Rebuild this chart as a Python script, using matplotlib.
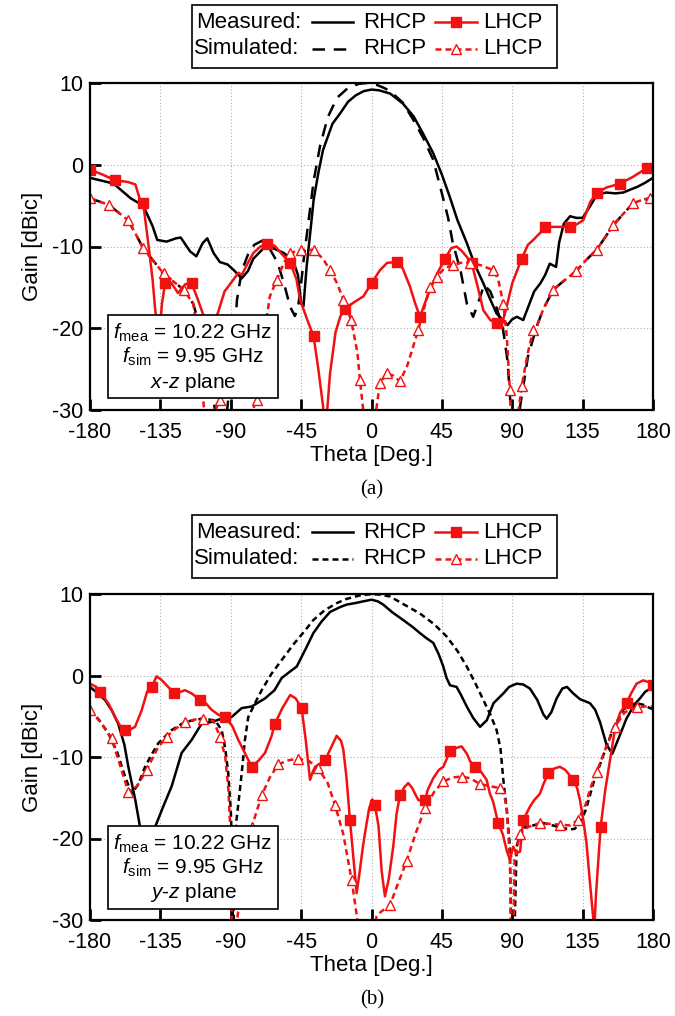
import matplotlib
matplotlib.use('Agg')
import matplotlib.pyplot as plt
from matplotlib.lines import Line2D
from matplotlib.patches import Rectangle

plt.rcParams['font.family'] = ['Liberation Sans', 'DejaVu Sans']
plt.rcParams['mathtext.fontset'] = 'custom'
plt.rcParams['mathtext.rm'] = 'Liberation Sans'
plt.rcParams['mathtext.it'] = 'Liberation Sans:italic'
plt.rcParams['axes.unicode_minus'] = False

# ---------------- (a) x-z plane ----------------
a_meas_r_th = [-180, -165, -154, -146, -140, -137, -131, -125, -122, -116, -112, -108, -105, -101, -97, -92,
               -88, -83, -79, -75.6, -69, -63, -56, -50, -47, -45, -43.5, -41.5, -39, -37, -34, -31, -25, -20,
               -15, -10, -5, 0, 5, 12, 20, 27, 33, 39.5, 45, 50, 55, 61, 66, 71.5, 76, 80, 84, 87, 90, 93, 97,
               101, 104, 108, 111, 114, 118, 120, 123, 127, 131, 135, 140, 144, 150, 156, 161, 166, 170, 175, 180]
a_meas_r_g = [-1.6, -2.3, -4.1, -5.0, -7.5, -9.2, -9.4, -9.0, -8.9, -10.6, -11.2, -9.6, -9.0, -10.8, -11.9, -12.2,
              -12.9, -13.9, -13.0, -11.5, -10.2, -10.2, -10.8, -11.8, -13.5, -17.0, -17.3, -12.5, -8.0, -4.3, -1.0,
              1.8, 5.0, 6.3, 7.7, 8.5, 9.0, 9.2, 9.1, 8.7, 7.5, 5.9, 3.8, 1.4, -1.2, -3.9, -6.8, -9.6, -12.2, -14.5,
              -16.5, -18.2, -19.0, -19.6, -18.9, -18.6, -19.0, -17.0, -15.5, -14.5, -13.5, -12.1, -12.5, -9.5, -7.2,
              -6.3, -6.5, -6.5, -5.0, -3.7, -3.4, -3.5, -3.4, -3.0, -2.7, -2.2, -1.6]

a_sim_r_th = [-180, -168, -155.5, -146, -133, -120, -114, -108, -103, -95, -88, -86, -83, -79, -75, -70, -65, -60,
              -56, -52, -49, -47, -45, -43, -40, -37, -33, -28, -22, -15, -8, -3, 3, 8, 12, 20, 26.7, 33, 39.5, 45,
              49, 52, 57, 61, 65, 68, 72, 76, 80, 84, 87, 89, 90, 92, 95, 100, 105.6, 110, 116.2, 123, 131, 137,
              144, 150, 154.6, 161, 167.4, 173, 178, 180]
a_sim_r_g = [-4.1, -4.9, -6.8, -10.2, -13.3, -15.3, -17.0, -21.0, -27.0, -35.0, -22.0, -16.5, -13.0, -11.0, -9.8,
             -9.3, -10.3, -12.0, -14.5, -17.4, -18.5, -17.5, -14.5, -11.0, -6.5, -2.0, 2.2, 5.8, 8.2, 9.4, 9.9, 10.0,
             9.8, 9.4, 9.0, 7.6, 5.5, 3.3, 0.6, -3.5, -6.5, -9.6, -13.0, -17.0, -18.6, -17.0, -14.7, -15.5, -17.5,
             -20.0, -24.0, -29.6, -35.0, -35.0, -29.6, -23.5, -19.8, -17.6, -15.3, -14.2, -13.0, -11.7, -10.4, -8.7,
             -7.4, -6.0, -4.7, -4.3, -4.1, -4.1]

a_sim_l_th = [-180, -168, -155.5, -146, -133, -120, -114, -110, -106, -101, -97, -93, -85, -78, -73.5, -68, -65,
              -60.6, -56, -52, -45, -37, -31, -26.5, -22, -18, -13, -9, -7.4, -5, -2, 3, 5.4, 9.6, 14, 18.2, 23,
              29.9, 37.4, 41.6, 47, 52.3, 57, 63, 70, 77.9, 81, 84.3, 86.5, 88.5, 90, 92, 96, 100, 103.4, 105.6,
              110, 116.2, 123, 131, 137, 144, 150, 154.6, 161, 167.4, 173, 178, 180]
a_sim_l_g = [-4.1, -4.9, -6.8, -10.2, -13.3, -15.3, -17.0, -22.0, -33.0, -30.5, -28.8, -30.5, -35.0, -31.0, -28.8,
             -20.0, -16.1, -14.1, -12.0, -10.8, -10.4, -10.4, -11.5, -12.9, -14.5, -16.5, -19.0, -23.0, -26.3, -30.5,
             -35.0, -30.0, -26.7, -25.5, -25.8, -26.5, -24.5, -20.2, -14.9, -13.7, -12.6, -12.3, -12.0, -12.0, -12.3,
             -12.9, -14.0, -17.0, -21.0, -27.6, -35.0, -33.0, -27.1, -23.0, -20.2, -19.8, -17.6, -15.3, -14.2, -13.0,
             -11.7, -10.4, -8.7, -7.4, -6.0, -4.7, -4.3, -4.1, -4.1]
a_sim_l_mk = [-180, -168, -155.5, -146, -133, -120, -97, -73.5, -60.6, -52, -45, -37, -26.5, -18, -13, -7.4, 5.4,
              9.6, 18.2, 29.9, 37.4, 41.6, 52.3, 63, 77.9, 84.3, 88.5, 96, 103.4, 116.2, 131, 144, 154.6, 167.4, 178]

a_meas_l_th = [-180, -172, -164, -156, -151, -148, -146, -143, -140, -138.4, -136, -134, -132, -127.8, -123.7, -119,
               -115, -111, -107.7, -104, -100, -98, -94, -91.6, -85, -83, -79, -75.6, -71, -67, -62, -57, -52, -48,
               -45.7, -41, -37, -34, -31, -29.5, -27.5, -26.5, -23, -20, -17, -11, -5.2, 0, 5.4, 10, 16, 20, 24.6,
               28, 31, 34, 37.4, 42, 47, 51, 54.4, 58, 64, 68, 71.5, 76, 80, 83, 86.4, 90, 96, 100, 103.4, 108, 111,
               118, 127, 131, 135.4, 140, 144, 150, 159, 167, 176, 180]
a_meas_l_g = [-0.6, -1.2, -1.9, -2.1, -2.4, -4.3, -4.7, -9.2, -14.0, -17.5, -22.0, -17.0, -14.5, -14.5, -15.7, -14.6,
              -14.5, -16.5, -18.3, -22.0, -19.0, -18.0, -15.5, -14.9, -13.2, -13.5, -12.0, -10.8, -10.0, -9.7, -9.9,
              -11.0, -12.0, -14.0, -16.5, -19.0, -21.0, -25.0, -29.5, -33.0, -28.0, -25.5, -20.5, -18.6, -17.6, -16.8,
              -16.1, -14.5, -12.9, -12.0, -11.9, -12.7, -14.9, -17.0, -18.6, -17.0, -15.3, -13.3, -11.5, -10.2, -10.0,
              -10.6, -12.0, -15.0, -17.8, -19.0, -19.4, -19.8, -17.4, -14.5, -11.5, -9.8, -9.2, -8.3, -7.6, -7.6, -7.6,
              -7.3, -6.8, -4.5, -3.5, -2.8, -2.3, -1.5, -0.4, -0.4]
a_meas_l_mk = [-180, -164, -146, -132, -115, -67, -52, -37, -17, 0, 16, 31, 47, 64, 80, 96, 111, 127, 144, 159, 176]

# ---------------- (b) y-z plane ----------------
b_meas_r_th = [-180, -175, -170.4, -166, -162, -158, -155.5, -151, -148, -145, -141, -138.4, -133, -127.8, -121.4,
               -115, -108.6, -102.3, -95.8, -89.5, -83, -76.6, -68, -62, -57.4, -52, -47.8, -42, -37.2, -32, -26.5,
               -20, -15.9, -10, -5.2, 0, 4, 7.5, 13, 20.3, 26, 31, 35, 39.5, 43, 45.9, 48, 50.2, 54.4, 57, 60.9, 65,
               69.4, 73.7, 78, 84.3, 88, 92.8, 97, 101.3, 106, 110, 112, 115, 118.4, 122, 125, 129, 133.3, 139.7,
               143, 146.1, 150.3, 154, 157.8, 163, 168, 171.7, 175, 180]
b_meas_r_g = [-1.4, -2.2, -3.0, -4.3, -5.9, -8.5, -11.2, -15.3, -18.6, -25.0, -25.0, -18.6, -16.0, -13.6, -9.5, -7.9,
              -5.9, -5.7, -5.3, -5.1, -4.0, -3.8, -2.8, -1.8, -0.3, 0.5, 1.1, 3.3, 5.2, 6.6, 7.8, 8.4, 8.7, 8.9, 9.1,
              9.3, 9.1, 8.7, 7.8, 6.8, 6.0, 5.2, 4.6, 4.0, 2.6, 1.1, -0.3, -1.2, -1.4, -2.3, -3.8, -5.2, -6.3, -5.5,
              -3.4, -2.2, -1.4, -1.0, -1.1, -1.6, -3.0, -4.8, -5.3, -4.5, -2.8, -1.6, -1.4, -2.2, -2.9, -3.4, -4.2,
              -5.7, -8.5, -9.6, -7.8, -5.3, -3.6, -2.8, -2.0, -1.4]

b_sim_r_th = [-180, -174, -168.3, -163, -157.6, -153.3, -149, -144.8, -140, -136.3, -127.8, -119.3, -108.6, -100,
              -95.8, -93.5, -91.6, -90, -89, -88.5, -87.5, -86.5, -85, -83, -81, -78.8, -74, -70.2, -64, -57.4, -50,
              -43, -37.2, -30, -22, -15.9, -8, -2, 4, 11.8, 20, 31, 40, 48, 55, 60.9, 66, 71.5, 76, 80, 82.5, 84.3,
              86.5, 88.5, 89.5, 91, 92.8, 95, 97.1, 99.2, 103.4, 109.8, 114, 120, 126.9, 130, 133.3, 137, 141.9, 146,
              150.3, 155, 161, 165, 169.5, 174, 178, 180]
b_sim_r_g = [-4.2, -5.5, -7.1, -9.2, -12.4, -14.5, -13.3, -11.2, -9.5, -8.3, -6.7, -5.7, -5.3, -5.5, -6.7, -9.0,
             -12.0, -16.5, -22.0, -35.0, -22.0, -18.0, -15.5, -12.0, -8.0, -5.1, -3.2, -1.8, 0.2, 1.9, 3.8, 5.4, 6.8,
             8.0, 8.9, 9.4, 9.8, 9.95, 9.95, 9.7, 8.8, 7.6, 6.3, 4.8, 3.0, 1.1, -0.8, -3.0, -4.8, -6.7, -9.0, -12.8,
             -16.5, -21.0, -35.0, -35.0, -21.0, -19.4, -19.0, -18.3, -18.4, -18.1, -18.3, -18.6, -18.9, -18.8, -18.1,
             -16.5, -13.2, -11.0, -8.7, -6.3, -4.2, -3.6, -3.4, -3.6, -4.0, -4.1]

b_sim_l_th = [-180, -173, -166.2, -160, -155.5, -150, -143.8, -137, -131, -125, -119.3, -113, -107.5, -101, -96.9,
              -93.5, -91.5, -90, -89, -88, -86, -80, -76.6, -70.2, -65, -59.6, -53, -46.8, -40, -34, -28, -23.3, -18,
              -12.7, -9, -7, -2, 0, 3.3, 6, 11.8, 16, 22.4, 28, 34.2, 40, 45.9, 52, 57.6, 63, 69.3, 76, 82.2, 84.5,
              86.4, 88.5, 89.5, 90.5, 91.5, 94.9, 100, 107.7, 114, 120.5, 127, 132.2, 137, 140, 144, 150, 155.6, 162,
              169.5, 175, 180]
b_sim_l_g = [-4.2, -5.8, -7.7, -11.5, -14.3, -13.6, -11.6, -9.0, -7.5, -6.5, -5.7, -5.4, -5.3, -5.6, -7.5, -10.0,
             -14.0, -20.0, -35.0, -35.0, -30.0, -22.0, -18.6, -14.7, -12.5, -10.9, -10.4, -10.2, -10.5, -11.4, -13.2,
             -15.9, -19.5, -25.1, -30.0, -35.0, -35.0, -33.0, -29.5, -29.0, -28.2, -26.0, -22.8, -19.5, -16.3, -14.3,
             -13.0, -12.5, -12.4, -12.6, -13.3, -13.6, -13.8, -14.5, -16.1, -22.6, -35.0, -35.0, -22.6, -19.4, -18.6,
             -18.1, -18.2, -18.3, -18.4, -17.7, -15.8, -13.8, -11.8, -8.8, -6.3, -4.5, -3.9, -3.8, -3.8]
b_sim_l_mk = [-180, -166.2, -155.5, -143.8, -131, -119.3, -107.5, -96.9, -76.6, -70.2, -59.6, -46.8, -34, -23.3,
              -12.7, 11.8, 22.4, 34.2, 45.9, 57.6, 69.3, 82.2, 94.9, 107.7, 120.5, 132.2, 144, 155.6, 169.5]

b_meas_l_th = [-180, -176, -173.6, -168, -164, -160, -157.6, -154, -151.2, -147, -143.5, -140.6, -137.4, -134.5,
               -132, -126, -122, -119.3, -115, -109.7, -106, -102.3, -98, -93.7, -89, -85.2, -81, -76.6, -72, -68.1,
               -64, -61.7, -57, -52, -48.5, -44.7, -42, -39.3, -37.5, -36, -29.7, -25, -22.3, -19.5, -18, -16, -13.8,
               -11.5, -9.5, -7.5, -5.5, -4.2, -1.5, 0.5, 2.2, 4.5, 6.5, 8.6, 11, 13.9, 16, 18.2, 21, 23.5, 26, 27.8,
               30, 34.2, 36, 39.5, 43, 45.9, 50.2, 54, 57.6, 61, 63, 66.2, 70, 73.6, 75.7, 77.8, 81, 84, 86.5, 88.5,
               90.6, 92.5, 95, 97.1, 101.3, 104, 107.7, 110, 113, 117, 120.5, 124, 129, 131.5, 133.3, 135.5, 137.5,
               139.5, 141.8, 142.5, 143.5, 146.5, 149.5, 152.5, 155.5, 158.9, 163.1, 166, 169.5, 173.7, 177, 180]
b_meas_l_g = [-1.0, -1.4, -2.0, -3.5, -5.1, -6.4, -6.7, -6.6, -6.3, -4.3, -2.0, -1.4, -0.1, -0.5, -1.0, -2.2, -2.0,
              -1.8, -2.2, -3.0, -3.4, -4.2, -4.8, -5.1, -6.2, -7.9, -9.5, -11.2, -10.4, -9.5, -7.5, -5.9, -4.0, -2.4,
              -2.8, -4.0, -8.0, -12.8, -11.8, -11.2, -10.4, -8.5, -7.4, -8.0, -9.1, -12.5, -17.7, -22.5, -26.7, -24.0,
              -21.0, -19.4, -16.3, -15.2, -15.9, -18.5, -24.0, -27.1, -25.0, -21.0, -17.0, -14.7, -13.7, -13.2, -13.8,
              -14.5, -15.3, -15.3, -14.0, -12.6, -11.6, -11.2, -9.3, -8.9, -8.7, -9.6, -10.5, -11.2, -11.8, -12.8,
              -14.5, -15.5, -18.1, -19.5, -21.5, -22.6, -21.0, -21.8, -21.6, -17.7, -16.1, -15.3, -14.5, -13.3, -12.0,
              -11.4, -11.2, -11.6, -12.8, -13.8, -15.3, -17.8, -20.6, -25.0, -29.8, -31.0, -27.0, -18.6, -14.0, -10.4,
              -6.8, -4.6, -3.4, -2.2, -1.0, -0.6, -0.8, -1.2]
b_meas_l_mk = [-173.6, -157.6, -140.6, -126, -109.7, -93.7, -76.6, -61.7, -44.7, -29.7, -13.8, 2.2, 18.2, 34.2,
               50.2, 66.2, 81, 97.1, 113, 129, 146.5, 163.1, 180]

W, H = 675, 1016
fig = plt.figure(figsize=(W / 100, H / 100), dpi=100)


def fx(x):
    return x / W


def fy(y):
    return 1 - y / H


def marks(th, mk):
    return [i for i, t in enumerate(th) if t in mk]


RED = '#f21010'


def panel(top, bot, data, sim_dash, plane, leg_top, caption, cap_y):
    ax = fig.add_axes([fx(90), fy(bot), fx(653) - fx(90), fy(top) - fy(bot)])
    (mr_th, mr_g), (sr_th, sr_g), (ml_th, ml_g, ml_mk), (sl_th, sl_g, sl_mk) = data
    ax.plot(mr_th, mr_g, color='black', lw=1.8)
    ax.plot(sr_th, sr_g, color='black', lw=1.8, dashes=sim_dash)
    ax.plot(ml_th, ml_g, color=RED, lw=1.8, marker='s', ms=7, markevery=marks(ml_th, ml_mk))
    ax.plot(sl_th, sl_g, color=RED, lw=1.8, dashes=(2.4, 1.6), marker='^', ms=7,
            mfc='white', mec=RED, mew=1.0, markevery=marks(sl_th, sl_mk))
    ax.set_xlim(-180, 180)
    ax.set_ylim(-30, 10)
    ax.set_xticks(range(-180, 181, 45))
    ax.set_yticks(range(-30, 11, 10))
    ax.grid(True, color='#b0b0b0', lw=0.8, dashes=(1, 2))
    ax.tick_params(direction='in', length=8, width=2, labelsize=15.5)
    ax.tick_params(axis='x', pad=9)
    ax.tick_params(axis='y', pad=5)
    for s in ax.spines.values():
        s.set_linewidth(1.6)
    ax.set_xlabel('Theta [Deg.]', fontsize=16, labelpad=1)
    ax.set_ylabel('Gain [dBic]', fontsize=16, labelpad=6)

    # info box
    bt = top + (315 - 83)
    fig.add_artist(Rectangle((fx(108), fy(bt + 83)), fx(278) - fx(108), fy(bt) - fy(bt + 83),
                             transform=fig.transFigure, facecolor='white', edgecolor='black', lw=1.2, zorder=5))
    fig.text(fx(193), fy(bt + 18), r'$f_{\mathrm{mea}}$ = 10.22 GHz', ha='center', va='center', fontsize=15, zorder=6)
    fig.text(fx(193), fy(bt + 42), r'$f_{\mathrm{sim}}$ = 9.95 GHz', ha='center', va='center', fontsize=15, zorder=6)
    fig.text(fx(193), fy(bt + 67), plane, ha='center', va='center', fontsize=15, zorder=6)

    # legend
    fig.add_artist(Rectangle((fx(192), fy(leg_top + 63)), fx(557) - fx(192), fy(leg_top) - fy(leg_top + 63),
                             transform=fig.transFigure, facecolor='white', edgecolor='black', lw=1.2, zorder=5))
    r1, r2 = leg_top + 17, leg_top + 44
    fig.text(fx(196), fy(r1), 'Measured:', ha='left', va='center', fontsize=16, zorder=6)
    fig.text(fx(194), fy(r2), 'Simulated:', ha='left', va='center', fontsize=16, zorder=6)
    for r in (r1, r2):
        fig.text(fx(363), fy(r), 'RHCP', ha='left', va='center', fontsize=16, zorder=6)
        fig.text(fx(483), fy(r), 'LHCP', ha='left', va='center', fontsize=16, zorder=6)
    fig.add_artist(Line2D([fx(312), fx(353)], [fy(r1), fy(r1)], color='black', lw=1.8, zorder=6,
                          transform=fig.transFigure))
    fig.add_artist(Line2D([fx(312), fx(353)], [fy(r2), fy(r2)], color='black', lw=1.8, dashes=sim_dash,
                          zorder=6, transform=fig.transFigure))
    fig.add_artist(Line2D([fx(435), fx(477)], [fy(r1), fy(r1)], color=RED, lw=1.8, zorder=6,
                          transform=fig.transFigure))
    fig.add_artist(Line2D([fx(456)], [fy(r1)], color=RED, marker='s', ms=7, zorder=7,
                          transform=fig.transFigure))
    fig.add_artist(Line2D([fx(435), fx(477)], [fy(r2), fy(r2)], color=RED, lw=1.8, dashes=(2.4, 1.6), zorder=6,
                          transform=fig.transFigure))
    fig.add_artist(Line2D([fx(456)], [fy(r2)], color=RED, marker='^', ms=7, mfc='white', mec=RED, mew=1.0,
                          zorder=7, transform=fig.transFigure))

    fig.text(fx(372), fy(cap_y), caption, ha='center', va='center', fontsize=15,
             family=['Liberation Serif', 'DejaVu Serif'])
    return ax


panel(83, 410,
      [(a_meas_r_th, a_meas_r_g), (a_sim_r_th, a_sim_r_g),
       (a_meas_l_th, a_meas_l_g, a_meas_l_mk), (a_sim_l_th, a_sim_l_g, a_sim_l_mk)],
      (5, 3.5), r'$x$-$z$ plane', 5, '(a)', 490)
panel(594, 920,
      [(b_meas_r_th, b_meas_r_g), (b_sim_r_th, b_sim_r_g),
       (b_meas_l_th, b_meas_l_g, b_meas_l_mk), (b_sim_l_th, b_sim_l_g, b_sim_l_mk)],
      (2.4, 1.6), r'$y$-$z$ plane', 515, '(b)', 1000)

fig.savefig('out.png', dpi=100)
